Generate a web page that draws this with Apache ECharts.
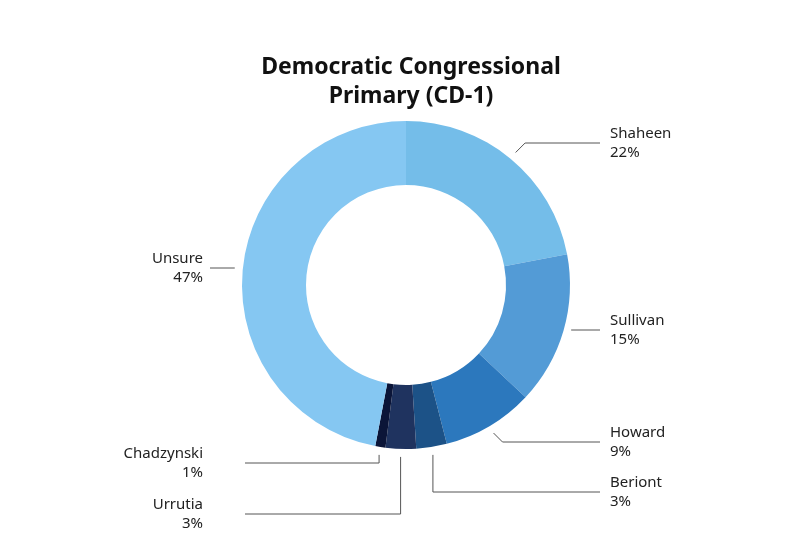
<!DOCTYPE html>
<html>
<head>
<meta charset="utf-8">
<script src="https://cdn.jsdelivr.net/npm/echarts@6/dist/echarts.min.js"></script>
<style>
  html, body { margin: 0; padding: 0; background: #fff; }
  #chart { width: 800px; height: 539px; }
</style>
</head>
<body>
<div id="chart"></div>
<script>
var candidates = ['Shaheen', 'Sullivan', 'Howard', 'Beriont', 'Urrutia', 'Chadzynski', 'Unsure'];
var shares = [22, 15, 9, 3, 3, 1, 47];
var sliceColors = ['#74bde9', '#539bd6', '#2c78bd', '#1c5287', '#1f335f', '#0b1538', '#85c7f2'];

// label placement (layout only): vertical centre of each label, where its leader ends,
// and whether the leader bends diagonally, vertically or runs straight
var labelY = [143, 330, 442, 492, 514, 463, 268];
var lineEnd = [600, 600, 600, 600, 245, 245, 210];
var bend = ['diag', 'flat', 'diag', 'vert', 'vert', 'vert', 'flat'];

var cx = 406, cy = 285, rOuter = 164, rInner = 100;

var chart = echarts.init(document.getElementById('chart'));

var option = {
    backgroundColor: '#fff',
    title: {
        text: 'Democratic Congressional\nPrimary (CD-1)',
        left: cx,
        top: 48,
        textAlign: 'center',
        textStyle: {
            fontFamily: 'Noto Sans',
            fontSize: 23,
            fontWeight: 'bold',
            color: '#111',
            lineHeight: 29
        }
    },
    series: [{
        type: 'pie',
        center: [cx, cy],
        radius: [rInner, rOuter],
        startAngle: 90,
        clockwise: true,
        silent: true,
        data: candidates.map(function (name, i) {
            return { name: name, value: shares[i], itemStyle: { color: sliceColors[i] } };
        }),
        label: {
            show: true,
            formatter: '{b}\n{d}%',
            fontFamily: 'Noto Sans',
            fontSize: 15,
            lineHeight: 19,
            color: '#222'
        },
        labelLine: {
            show: true,
            lineStyle: { color: '#555', width: 1 }
        },
        labelLayout: function (params) {
            var i = params.dataIndex;
            var p0 = params.labelLinePoints[0];
            var dx = p0[0] - cx, dy = p0[1] - cy;
            var len = Math.sqrt(dx * dx + dy * dy);
            var sx = cx + dx / len * (rOuter + 8);
            var sy = cy + dy / len * (rOuter + 8);
            var y = labelY[i];
            var right = lineEnd[i] > cx;
            var mid;
            if (bend[i] === 'vert') {
                mid = [sx, y];
            } else if (bend[i] === 'diag') {
                mid = [sx + (right ? 1 : -1) * Math.abs(y - sy), y];
            } else {
                sy = y;
                mid = [sx, y];
            }
            var textX = right ? 610 : 203;
            return {
                x: textX,
                y: y,
                align: right ? 'left' : 'right',
                verticalAlign: 'middle',
                labelLinePoints: [[sx, sy], mid, [lineEnd[i], y]]
            };
        }
    }]
};

chart.setOption(option);

window.addEventListener('resize', function () {
    chart.resize();
});
</script>
</body>
</html>
